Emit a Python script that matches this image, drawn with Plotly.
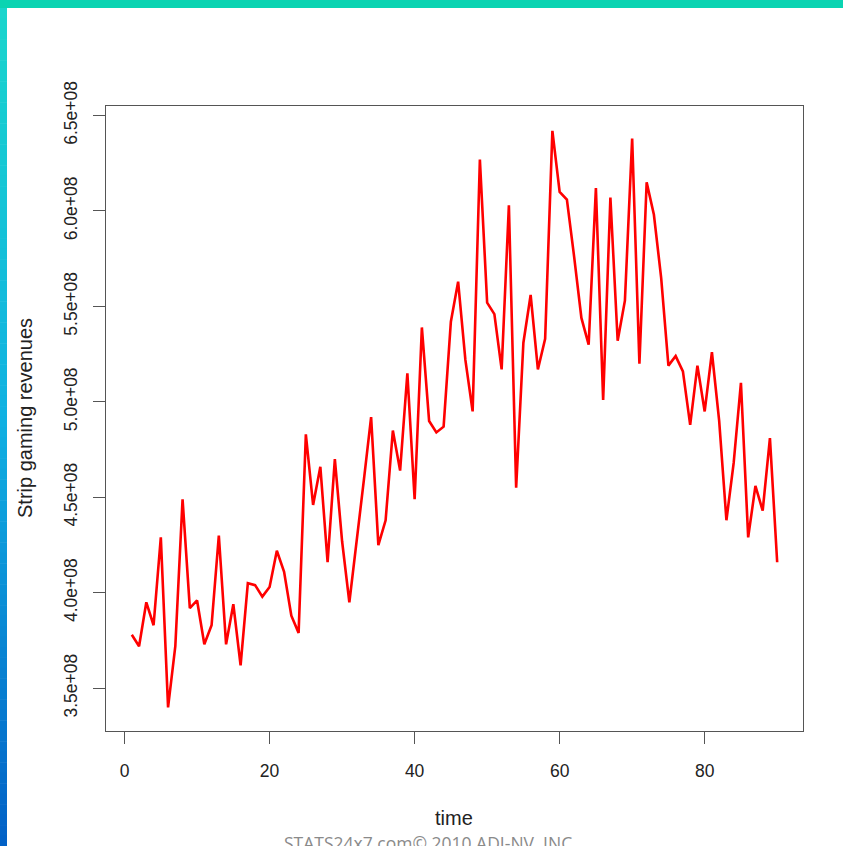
import plotly.graph_objects as go

# ---- data ----
time = list(range(1, 91))
revenue_e8 = [
    3.78, 3.72, 3.95, 3.83, 4.29, 3.40, 3.72, 4.49, 3.92, 3.96,
    3.73, 3.83, 4.30, 3.73, 3.94, 3.62, 4.05, 4.04, 3.98, 4.03,
    4.22, 4.11, 3.88, 3.79, 4.83, 4.46, 4.66, 4.16, 4.70, 4.27,
    3.95, 4.26, 4.59, 4.92, 4.25, 4.38, 4.85, 4.64, 5.15, 4.49,
    5.39, 4.90, 4.84, 4.87, 5.42, 5.63, 5.22, 4.95, 6.27, 5.52,
    5.46, 5.17, 6.03, 4.55, 5.31, 5.56, 5.17, 5.33, 6.42, 6.10,
    6.06, 5.76, 5.44, 5.30, 6.12, 5.01, 6.07, 5.32, 5.53, 6.38,
    5.20, 6.15, 5.98, 5.65, 5.19, 5.24, 5.16, 4.88, 5.19, 4.95,
    5.26, 4.90, 4.38, 4.68, 5.10, 4.29, 4.56, 4.43, 4.81, 4.16,
]
revenue = [v * 1e8 for v in revenue_e8]

x_ticks = [0, 20, 40, 60, 80]
y_ticks = [3.5e8, 4.0e8, 4.5e8, 5.0e8, 5.5e8, 6.0e8, 6.5e8]
y_tick_labels = ["3.5e+08", "4.0e+08", "4.5e+08", "5.0e+08", "5.5e+08", "6.0e+08", "6.5e+08"]

# ---- layout geometry (pixels) ----
W, H = 843, 846
L, R, T, B = 106, 803, 106, 731
PW, PH = R - L, B - T


def px(xp):
    return (xp - L) / PW


def py(yp):
    return (B - yp) / PH


FONT = "Liberation Sans, Arial, sans-serif"

fig = go.Figure()
fig.add_trace(go.Scatter(
    x=time, y=revenue, mode="lines",
    line=dict(color="#ff0000", width=2.6),
    hoverinfo="skip",
))

axis_common = dict(
    showgrid=False, zeroline=False,
    showline=True, mirror=True, linecolor="#555555", linewidth=1,
    ticks="outside", ticklen=12, tickcolor="#555555", tickwidth=1,
    tickfont=dict(family=FONT, size=17.5, color="#222222"),
)

fig.update_xaxes(
    range=[-2.56, 93.56], tickmode="array", tickvals=x_ticks,
    ticktext=[str(v) for v in x_ticks], ticklabelstandoff=12,
    **axis_common,
)
fig.update_yaxes(
    range=[3.276e8, 6.55e8], tickmode="array", tickvals=y_ticks,
    ticktext=y_tick_labels, tickangle=-90, ticklabelstandoff=9,
    **axis_common,
)

# decorative frame: teal top bar and gradient left strip
shapes = []
shapes.append(dict(type="rect", xref="paper", yref="paper",
                   x0=px(0), x1=px(W), y0=py(8), y1=py(0),
                   fillcolor="#0ad4b2", line=dict(width=0), layer="above"))

stops = [(0, (26, 214, 204)), (420, (16, 176, 226)), (846, (2, 96, 198))]


def color_at(yv):
    for (y0, c0), (y1, c1) in zip(stops[:-1], stops[1:]):
        if y0 <= yv <= y1:
            f = (yv - y0) / (y1 - y0)
            return "rgb(%d,%d,%d)" % tuple(round(a + (b - a) * f) for a, b in zip(c0, c1))
    return "rgb(%d,%d,%d)" % stops[-1][1]


n = 80
for i in range(n):
    y0 = 8 + (H - 8) * i / n
    y1 = 8 + (H - 8) * (i + 1) / n
    shapes.append(dict(type="rect", xref="paper", yref="paper",
                       x0=px(0), x1=px(7), y0=py(y1 + 0.5), y1=py(y0),
                       fillcolor=color_at((y0 + y1) / 2), line=dict(width=0), layer="above"))

annotations = [
    dict(text="time", xref="paper", yref="paper", x=px(454), y=py(818),
         xanchor="center", yanchor="middle", showarrow=False,
         font=dict(family=FONT, size=20, color="#222222")),
    dict(text="Strip gaming revenues", xref="paper", yref="paper", x=px(25), y=py(418),
         xanchor="center", yanchor="middle", showarrow=False, textangle=-90,
         font=dict(family=FONT, size=20, color="#222222")),
    dict(text="STATS24x7.com© 2010 ADI-NV, INC.", xref="paper", yref="paper",
         x=px(430), y=py(843), xanchor="center", yanchor="middle", showarrow=False,
         font=dict(family="Open Sans, sans-serif", size=17.5, color="#8a8a8a")),
]

fig.update_layout(
    width=W, height=H,
    margin=dict(l=L, r=W - R, t=T, b=H - B, pad=0),
    paper_bgcolor="white", plot_bgcolor="white",
    showlegend=False,
    shapes=shapes, annotations=annotations,
)

fig.write_html("out.html", config={"displayModeBar": False},
               post_script="document.body.style.margin='0';document.body.style.overflow='hidden';")
